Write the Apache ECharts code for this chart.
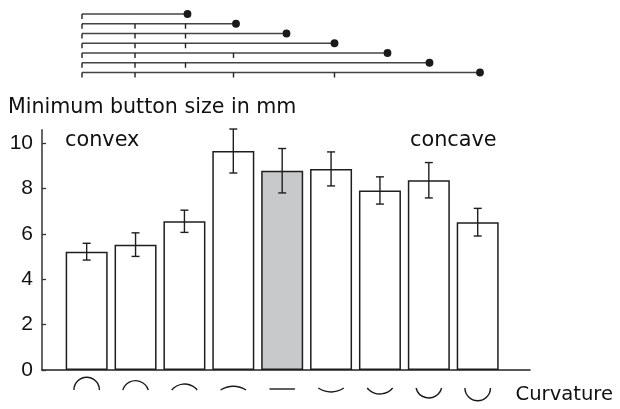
<!DOCTYPE html>
<html>
<head>
<meta charset="utf-8">
<script src="https://cdn.jsdelivr.net/npm/echarts@6/dist/echarts.min.js"></script>
<style>
  html, body { margin: 0; background: #fff; }
  #main { width: 620px; height: 409px; }
</style>
</head>
<body>
<div id="main"></div>
<script>
// minimum button size (mm) per curvature, with +/- error
const sizes = [5.22, 5.53, 6.56, 9.66, 8.79, 8.87, 7.92, 8.37, 6.52];
const errors = [0.37, 0.52, 0.49, 0.97, 0.98, 0.75, 0.6, 0.78, 0.61];
// relative curvature: 1 = half circle convex, -1 = half circle concave
const curvature = [1, 0.73, 0.47, 0.29, 0, -0.31, -0.47, -0.78, -1];
const flatIndex = 4;
const yTicks = [0, 2, 4, 6, 8, 10];

// diagram on top: length of each row and the marks along it
const rowEnds = [2.11, 3.08, 4.09, 5.05, 6.11, 6.95, 7.96];
const rowTicks = [
  [0],
  [0, 1.06, 2.07],
  [0, 1.06, 2.07],
  [0, 1.06, 2.07],
  [0, 1.06, 3.03],
  [0, 1.06, 2.07],
  [0, 1.06, 3.03, 5.05],
];

const ink = "#1e1e1e";
const wordFont = "DejaVu Sans";
const numFont = "Liberation Sans";

var chart = echarts.init(document.getElementById("main"), null, { renderer: "canvas" });

function label(text, x, y, size) {
  return {
    type: "text",
    style: { text: text, x: x, y: y, font: size + "px " + wordFont, fill: "#111", verticalAlign: "middle" },
  };
}

var option = {
  animation: false,
  backgroundColor: "#fff",
  grid: [
    { left: 42, right: 90, top: 129.7, bottom: 39 },
    { left: 82, width: 400, top: 14, height: 58.5 },
  ],
  xAxis: [
    {
      type: "value",
      gridIndex: 0,
      min: -0.914,
      max: 9.07,
      axisLine: { show: true, onZero: false, lineStyle: { color: "#222", width: 1.6 } },
      axisTick: { show: false },
      axisLabel: { show: false },
      splitLine: { show: false },
    },
    {
      type: "value",
      gridIndex: 1,
      min: 0,
      max: 8,
      show: false,
    },
  ],
  yAxis: [
    {
      type: "value",
      gridIndex: 0,
      min: 0,
      max: 10.6,
      axisLine: { show: true, onZero: false, lineStyle: { color: "#333", width: 1.5 } },
      axisTick: {
        show: true,
        inside: true,
        length: 4,
        customValues: yTicks,
        lineStyle: { color: "#333", width: 1.3 },
      },
      axisLabel: {
        customValues: yTicks,
        margin: 9,
        color: "#111",
        fontFamily: numFont,
        fontSize: 21,
      },
      splitLine: { show: false },
    },
    {
      type: "category",
      gridIndex: 1,
      data: rowEnds.map((_, i) => "r" + i),
      inverse: true,
      boundaryGap: false,
      show: false,
    },
  ],
  graphic: [
    label("Minimum button size in mm", 8, 107.5, 20.6),
    label("convex", 65, 141, 20.8),
    label("concave", 410, 141, 20.8),
    label("Curvature", 515.5, 395, 19.6),
  ],
  series: [
    {
      type: "bar",
      xAxisIndex: 0,
      yAxisIndex: 0,
      barWidth: 42,
      data: sizes.map((v, i) => ({
        value: [i, v],
        itemStyle: {
          color: i === flatIndex ? "#c8c9cb" : "#fff",
          borderColor: ink,
          borderWidth: 1.5,
        },
      })),
    },
    {
      type: "custom",
      xAxisIndex: 0,
      yAxisIndex: 0,
      data: sizes.map((v, i) => [i, v - errors[i], v + errors[i]]),
      renderItem: function (params, api) {
        var lo = api.coord([api.value(0), api.value(1)]);
        var hi = api.coord([api.value(0), api.value(2)]);
        var st = { stroke: ink, lineWidth: 1.4 };
        return {
          type: "group",
          children: [
            { type: "line", shape: { x1: lo[0], y1: lo[1], x2: hi[0], y2: hi[1] }, style: st },
            { type: "line", shape: { x1: hi[0] - 4, y1: hi[1], x2: hi[0] + 4, y2: hi[1] }, style: st },
            { type: "line", shape: { x1: lo[0] - 4, y1: lo[1], x2: lo[0] + 4, y2: lo[1] }, style: st },
          ],
        };
      },
      z: 5,
    },
    {
      // curvature pictograms under the axis
      type: "custom",
      xAxisIndex: 0,
      yAxisIndex: 0,
      clip: false,
      data: curvature.map((c, i) => [i, 0, c]),
      renderItem: function (params, api) {
        var p = api.coord([api.value(0), 0]);
        var k = api.value(2);
        var half = 12.75;
        var st = { stroke: "#1a1a1a", lineWidth: 1.4, fill: null };
        if (k === 0) {
          return { type: "line", shape: { x1: p[0] - half, y1: p[1] + 19, x2: p[0] + half, y2: p[1] + 19 }, style: st };
        }
        var s = Math.abs(k) * half;
        var r = (half * half + s * s) / (2 * s);
        var th = Math.asin(Math.min(1, half / r));
        if (k > 0) {
          var base = p[1] + 20;
          return {
            type: "arc",
            shape: { cx: p[0], cy: base - s + r, r: r, startAngle: 1.5 * Math.PI - th, endAngle: 1.5 * Math.PI + th, clockwise: true },
            style: st,
          };
        }
        var base2 = p[1] + 18;
        return {
          type: "arc",
          shape: { cx: p[0], cy: base2 + s - r, r: r, startAngle: 0.5 * Math.PI - th, endAngle: 0.5 * Math.PI + th, clockwise: true },
          style: st,
        };
      },
    },
    {
      // rows of the top diagram
      type: "custom",
      xAxisIndex: 1,
      yAxisIndex: 1,
      clip: false,
      data: rowEnds.map((e, i) => [e, i]),
      renderItem: function (params, api) {
        var row = api.value(1);
        var start = api.coord([0, row]);
        var end = api.coord([api.value(0), row]);
        var kids = [
          { type: "line", shape: { x1: start[0], y1: start[1], x2: end[0], y2: end[1] }, style: { stroke: "#444", lineWidth: 1.5 } },
        ];
        rowTicks[params.dataIndex].forEach(function (t) {
          var q = api.coord([t, row]);
          kids.push({ type: "line", shape: { x1: q[0], y1: q[1], x2: q[0], y2: q[1] + 5 }, style: { stroke: "#222", lineWidth: 1.4 } });
        });
        kids.push({ type: "circle", shape: { cx: end[0], cy: end[1], r: 3.9 }, style: { fill: "#1a1a1a" } });
        return { type: "group", children: kids };
      },
    },
  ],
};

option && chart.setOption(option);
</script>
</body>
</html>
